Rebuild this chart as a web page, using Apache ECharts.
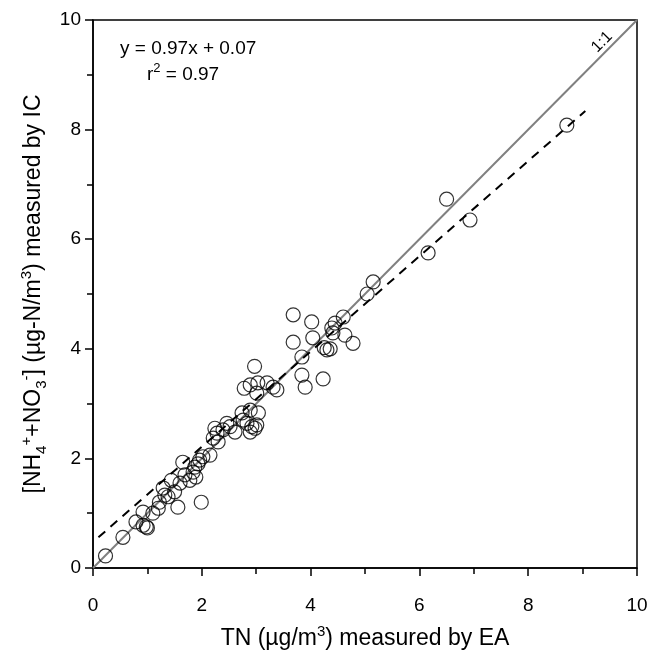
<!DOCTYPE html>
<html>
<head>
<meta charset="utf-8">
<script src="https://cdn.jsdelivr.net/npm/echarts@6/dist/echarts.min.js"></script>
<style>
  html, body { margin: 0; padding: 0; background: #fff; }
  #chart { width: 650px; height: 651px; }
</style>
</head>
<body>
<div id="chart"></div>
<script>
// TN measured by EA (x) and NH4+ + NO3- measured by IC (y), ug-N/m3
const tn = [0.23, 0.55, 0.79, 0.92, 0.92, 0.98, 1.0, 1.1, 1.2, 1.22, 1.29, 1.32, 1.38,
  1.44, 1.5, 1.56, 1.6, 1.65, 1.69, 1.78, 1.84, 1.89, 1.99, 1.96, 1.87, 1.93, 2.02, 2.15,
  2.24, 2.28, 2.46, 2.52, 2.39, 2.61, 2.21, 2.3,
  2.74, 2.89, 3.04, 2.76, 2.83, 2.92, 2.98, 2.89, 3.01,
  2.89, 3.03, 2.78, 3.01, 3.2, 3.31, 3.38, 2.97,
  3.68, 4.02, 3.68, 4.04, 3.84, 3.84, 3.9, 4.23, 4.6, 4.45, 4.39, 4.41, 4.63, 4.78,
  4.3, 4.36, 4.25, 5.04, 5.15, 6.16, 6.5, 6.93, 8.71];
const ic = [0.22, 0.56, 0.84, 1.02, 0.78, 0.75, 0.73, 1.0, 1.09, 1.2, 1.46, 1.33, 1.3,
  1.6, 1.39, 1.11, 1.55, 1.93, 1.7, 1.6, 1.75, 1.66, 1.2, 1.97, 1.84, 1.9, 2.03, 2.06,
  2.55, 2.46, 2.64, 2.58, 2.52, 2.48, 2.37, 2.3,
  2.83, 2.88, 2.83, 2.7, 2.64, 2.58, 2.55, 2.48, 2.61,
  3.34, 3.38, 3.28, 3.19, 3.38, 3.3, 3.25, 3.68,
  4.62, 4.49, 4.12, 4.2, 3.85, 3.52, 3.3, 3.45, 4.58, 4.47, 4.38, 4.29, 4.25, 4.1,
  3.98, 4.0, 4.02, 5.0, 5.22, 5.75, 6.73, 6.35, 8.08];

// 1:1 line and regression line end points
const oneToOne = [[0, 0], [10, 10]];
const fitLine = [[0.1, 0.56], [9.05, 8.34]];

const axisTicks = { min: 0, max: 10, interval: 2 };

let chart = echarts.init(document.getElementById('chart'));

const font = 'Liberation Sans, Arial, sans-serif';
const richName = {
  t: { fontSize: 23, fontFamily: font, color: '#000', lineHeight: 30 },
  sup: { fontSize: 15, fontFamily: font, color: '#000', verticalAlign: 'top', lineHeight: 14 },
  sub: { fontSize: 15, fontFamily: font, color: '#000', verticalAlign: 'bottom', lineHeight: 14 }
};

function axis(name, gap, labelMargin) {
  return {
    type: 'value',
    min: axisTicks.min,
    max: axisTicks.max,
    interval: axisTicks.interval,
    name: name,
    nameLocation: 'middle',
    nameGap: gap,
    nameTextStyle: { rich: richName },
    axisLine: { show: true, lineStyle: { color: '#000', width: 1.5 } },
    axisTick: { show: true, length: 8, lineStyle: { color: '#000', width: 1.5 } },
    minorTick: { show: true, splitNumber: 2, length: 6, lineStyle: { color: '#000', width: 1.5 } },
    axisLabel: { fontSize: 19, fontFamily: font, color: '#000', margin: labelMargin },
    splitLine: { show: false },
    minorSplitLine: { show: false }
  };
}

let option = {
  animation: false,
  grid: {
    left: 93, right: 13, top: 20, bottom: 83,
    containLabel: false,
    outerBoundsMode: 'none',
    show: true, borderColor: '#000', borderWidth: 1.5
  },
  xAxis: axis('{t|TN (µg/m}{sup|3}{t|) measured by EA}', 56, 28),
  yAxis: Object.assign(axis('{t|[NH}{sub|4}{sup|+}{t|+NO}{sub|3}{sup|-}{t|] (µg-N/m}{sup|3}{t|) measured by IC}', 44, 12), {
    nameRotate: 90
  }),
  graphic: [
    { type: 'text', left: 120, top: 39,
      style: { text: 'y = 0.97x + 0.07', fontSize: 19, fontFamily: font, fill: '#000' } },
    { type: 'text', left: 147, top: 62,
      style: {
        text: '{t|r}{s|2}{t| = 0.97}',
        rich: {
          t: { fontSize: 19, fontFamily: font, fill: '#000', lineHeight: 26 },
          s: { fontSize: 13, fontFamily: font, fill: '#000', verticalAlign: 'top', lineHeight: 12 }
        }
      } },
    { type: 'text', x: 602, y: 42, rotation: Math.PI / 4,
      style: { text: '1:1', fontSize: 16, fontFamily: font, fill: '#000', align: 'center', verticalAlign: 'middle' } }
  ],
  series: [
    {
      type: 'line',
      data: oneToOne,
      symbol: 'none',
      lineStyle: { color: '#808080', width: 2 },
      z: 2
    },
    {
      type: 'line',
      data: fitLine,
      symbol: 'none',
      lineStyle: { color: '#000', width: 2, type: [9, 7] },
      z: 3
    },
    {
      type: 'scatter',
      data: tn.map((x, i) => [x, ic[i]]),
      symbol: 'circle',
      symbolSize: 14,
      itemStyle: { color: 'rgba(0,0,0,0)', borderColor: '#000', borderWidth: 1.2 },
      z: 4
    }
  ]
};

chart.setOption(option);
</script>
</body>
</html>
